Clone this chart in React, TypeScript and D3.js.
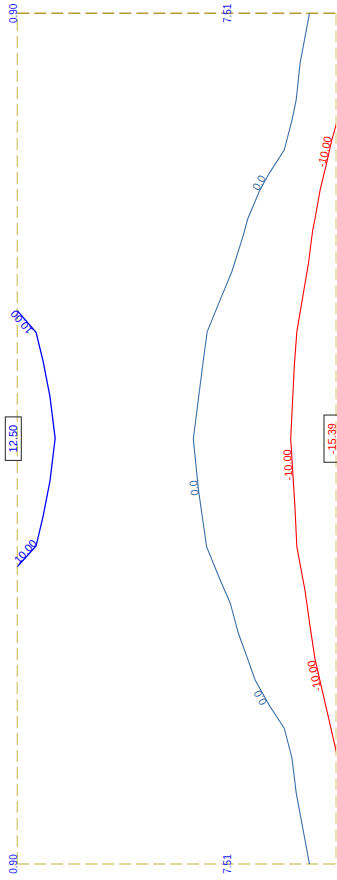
import { useEffect, useRef } from 'react';
import * as d3 from 'd3';

const WIDTH = 337;
const HEIGHT = 880;

// strip extents (m): across = x, along = y
const xDomain = [0.9, 10.75];
const yDomain = [0, 26.3];
const xTickValues = [0.9, 7.51];

// contour lines, [across, along]
const contourPos10: [number, number][] = [
  [0.9, 9.19], [1.48, 9.86], [1.7, 10.77], [1.91, 11.85], [2.07, 13.14],
  [1.91, 14.46], [1.7, 15.54], [1.48, 16.47], [0.9, 17.11],
];
const contourZero: [number, number][] = [
  [9.93, 0.0], [9.64, 1.54], [9.52, 2.68], [9.39, 3.3], [9.15, 4.23],
  [8.69, 4.94], [8.4, 5.46], [8.02, 6.36], [7.89, 6.85], [7.53, 7.99],
  [7.17, 8.86], [6.77, 9.84], [6.65, 10.72], [6.34, 13.16], [6.5, 14.74],
  [6.75, 16.49], [7.17, 17.52], [7.48, 18.23], [7.73, 19.16], [8.02, 19.96],
  [8.25, 20.61], [8.71, 21.43], [9.15, 22.1], [9.39, 23.03], [9.52, 24.1],
  [9.93, 26.3],
];
const contourNeg10: [number, number][] = [
  [10.77, 3.39], [10.62, 3.92], [10.46, 4.63], [10.26, 5.46], [10.1, 6.36],
  [10.03, 6.7], [9.9, 7.72], [9.54, 9.84], [9.46, 10.92], [9.35, 13.16],
  [9.48, 15.25], [9.54, 16.49], [9.79, 17.83], [9.95, 18.96], [10.1, 19.96],
  [10.77, 22.87],
];

const contours = [
  { key: 'pos10', label: '10.00', color: '#0000ff', points: contourPos10 },
  { key: 'zero', label: '0.0', color: '#3b6ea5', points: contourZero },
  { key: 'neg10', label: '-10.00', color: '#ff0000', points: contourNeg10 },
];

// where each contour is labelled: segment index + fraction along it
const labelSpots = [
  { key: 'pos10', seg: 0, t: 0.4 },
  { key: 'pos10', seg: 7, t: 0.4 },
  { key: 'zero', seg: 5, t: 0.7 },
  { key: 'zero', seg: 13, t: 0.95 },
  { key: 'zero', seg: 20, t: 0.59 },
  { key: 'neg10', seg: 1, t: 0.55 },
  { key: 'neg10', seg: 9, t: 0.38 },
  { key: 'neg10', seg: 14, t: 0.17 },
];

// extreme values
const extremes = [
  { text: '12.50', x: 0.9, y: 13.15, color: '#0000ff' },
  { text: '-15.39', x: 10.75, y: 13.15, color: '#ff0000' },
];

export default function App() {
  const svgRef = useRef<SVGSVGElement>(null);

  useEffect(() => {
    document.body.style.margin = '0';
    if (!svgRef.current) return;

    const svg = d3.select(svgRef.current);
    svg.selectAll('*').remove();

    const xScale = d3.scaleLinear().domain(xDomain).range([17.3, 336]);
    const yScale = d3.scaleLinear().domain(yDomain).range([13.3, 864]);

    const x0 = xScale(xDomain[0]);
    const x1 = xScale(xDomain[1]);
    const y0 = yScale(yDomain[0]);
    const y1 = yScale(yDomain[1]);

    svg
      .append('defs')
      .append('clipPath')
      .attr('id', 'plate')
      .append('rect')
      .attr('x', x0)
      .attr('y', y0)
      .attr('width', x1 - x0)
      .attr('height', y1 - y0);

    // dashed outline
    const edges = [
      { a: [x0, y1], b: [x0, y0], c: '#d8ca78' },
      { a: [x1, y0], b: [x1, y1], c: '#e2d898' },
      { a: [x0, y1], b: [x1, y1], c: '#d8ca78' },
      { a: [x0, y0], b: [x1, y0], c: '#b49c30' },
    ];
    svg
      .append('g')
      .selectAll('line')
      .data(edges)
      .enter()
      .append('line')
      .attr('x1', (d) => d.a[0])
      .attr('y1', (d) => d.a[1])
      .attr('x2', (d) => d.b[0])
      .attr('y2', (d) => d.b[1])
      .attr('stroke', (d) => d.c)
      .attr('stroke-width', 1.4)
      .attr('stroke-dasharray', '12,5');

    // contour lines
    const line = d3
      .line<[number, number]>()
      .x((d) => xScale(d[0]))
      .y((d) => yScale(d[1]));

    svg
      .append('g')
      .attr('clip-path', 'url(#plate)')
      .selectAll('path')
      .data(contours)
      .enter()
      .append('path')
      .attr('fill', 'none')
      .attr('stroke', (d) => d.color)
      .attr('stroke-width', (d) => (d.key === 'pos10' ? 1.3 : 1.1))
      .attr('d', (d) => line(d.points));

    // contour labels, always reading upwards
    labelSpots.forEach((s) => {
      const c = contours.find((k) => k.key === s.key)!;
      const p = c.points[s.seg];
      const q = c.points[s.seg + 1];
      const ax = xScale(p[0]);
      const ay = yScale(p[1]);
      const bx = xScale(q[0]);
      const by = yScale(q[1]);
      const px = ax + (bx - ax) * s.t;
      const py = ay + (by - ay) * s.t;
      let ang = (Math.atan2(by - ay, bx - ax) * 180) / Math.PI;
      if (ang > 0) ang -= 180;
      svg
        .append('text')
        .attr('transform', `translate(${px},${py}) rotate(${ang})`)
        .attr('dy', -0.5)
        .attr('text-anchor', 'middle')
        .attr('font-size', 11)
        .attr('fill', c.color)
        .text(c.label);
    });

    // extreme value boxes
    extremes.forEach((e) => {
      const bx = xScale(e.x);
      const by = yScale(e.y);
      const g = svg.append('g');
      const t = g
        .append('text')
        .attr('transform', `translate(${bx},${by}) rotate(-90)`)
        .attr('text-anchor', 'middle')
        .attr('font-size', 11)
        .attr('fill', e.color)
        .text(e.text);
      const len = (t.node() as SVGTextElement).getComputedTextLength();
      g.insert('rect', 'text')
        .attr('x', bx - 12)
        .attr('y', by - len / 2 - 8)
        .attr('width', 16)
        .attr('height', len + 16)
        .attr('fill', 'none')
        .attr('stroke', '#222')
        .attr('stroke-width', 1);
    });

    // station labels top and bottom
    const tickPos = xTickValues.flatMap((v) => [
      { v, y: y0 },
      { v, y: y1 },
    ]);
    svg
      .append('g')
      .selectAll('text')
      .data(tickPos)
      .enter()
      .append('text')
      .attr('transform', (d) => `translate(${xScale(d.v) - 0.5},${d.y}) rotate(-90)`)
      .attr('text-anchor', 'middle')
      .attr('font-size', 10)
      .attr('fill', '#1a1aff')
      .text((d) => d.v.toFixed(2));
  }, []);

  return (
    <svg
      ref={svgRef}
      width={WIDTH}
      height={HEIGHT}
      style={{
        display: 'block',
        background: '#fff',
        fontFamily: 'Arial, "Liberation Sans", Helvetica, sans-serif',
      }}
    />
  );
}
